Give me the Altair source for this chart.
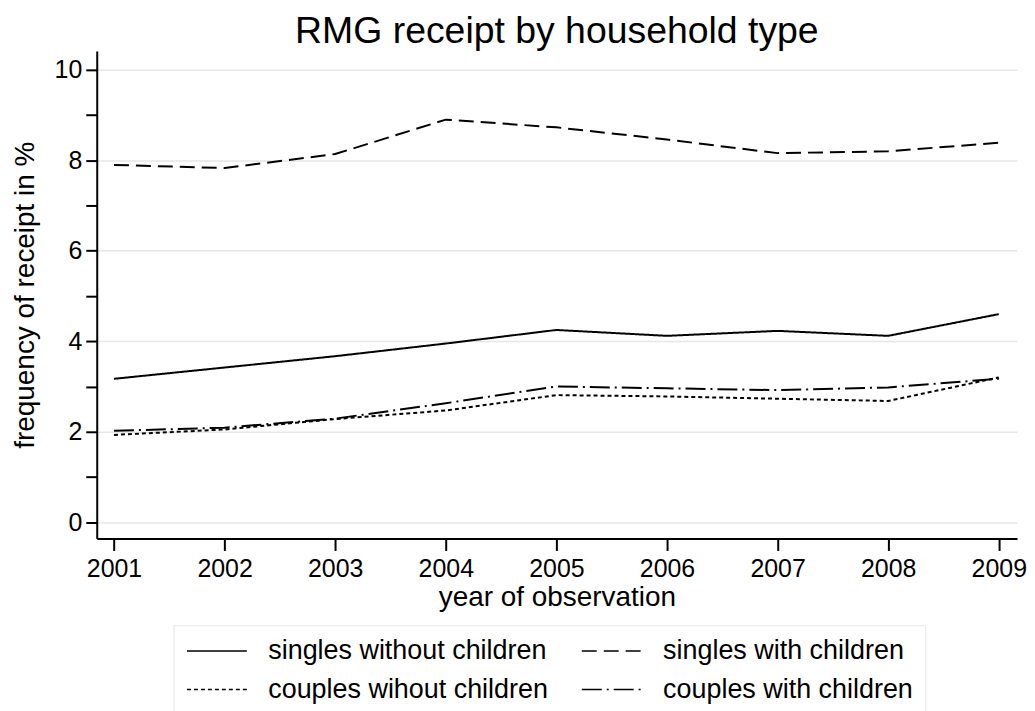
import altair as alt
import pandas as pd

years = [2001, 2002, 2003, 2004, 2005, 2006, 2007, 2008, 2009]
singles_without = [3.17, 3.42, 3.67, 3.95, 4.25, 4.12, 4.23, 4.12, 4.60]
singles_with = [7.90, 7.83, 8.14, 8.90, 8.73, 8.46, 8.16, 8.20, 8.39]
couples_without = [1.93, 2.05, 2.28, 2.47, 2.81, 2.78, 2.73, 2.68, 3.20]
couples_with = [2.02, 2.09, 2.29, 2.63, 3.00, 2.96, 2.92, 2.98, 3.17]

# legend fills column by column, so order: col1 (row1,row2), col2 (row1,row2)
series_names = [
    "singles without children",
    "couples wihout children",
    "singles with children",
    "couples with children",
]
series_values = [singles_without, couples_without, singles_with, couples_with]
dash_styles = [[1, 0], [4, 3], [15, 7], [20, 5, 2, 5]]

rows = []
for name, vals in zip(series_names, series_values):
    for yr, v in zip(years, vals):
        rows.append({"year": yr, "value": v, "series": name})
df = pd.DataFrame(rows)

FONT = "Liberation Sans"

chart = alt.Chart(df).mark_line(color="black", strokeWidth=2).encode(
    x=alt.X(
        "year:Q",
        scale=alt.Scale(domain=[2000.844, 2009.165], nice=False, zero=False),
        axis=alt.Axis(
            values=years, format="d", title="year of observation", grid=False,
            tickSize=12, labelPadding=6, titlePadding=2,
        ),
    ),
    y=alt.Y(
        "value:Q",
        scale=alt.Scale(domain=[-0.36, 10.42], nice=False, zero=False),
        axis=alt.Axis(
            values=list(range(0, 11)),
            labelExpr="datum.value % 2 === 0 ? datum.label : ''",
            title="frequency of receipt in %",
            gridColor="#e6e6e6", gridWidth=1.5,
            gridOpacity={"condition": {"test": "datum.value % 2 === 1", "value": 0}, "value": 1},
            tickSize=11, labelPadding=4, titlePadding=15,
        ),
    ),
    strokeDash=alt.StrokeDash(
        "series:N",
        scale=alt.Scale(domain=series_names, range=dash_styles),
        legend=alt.Legend(
            title=None, orient="none", legendX=77, legendY=576, columns=2,
            symbolType="M-2.4,0H9.6", symbolSize=100, symbolStrokeWidth=1.5,
            symbolStrokeColor="black", symbolFillColor="transparent",
            labelOffset=56, labelFontSize=27, labelFont=FONT, labelColor="black",
            labelLimit=500, columnPadding=30, rowPadding=11, gridAlign="all",
            strokeColor="#e6e6e6", padding=12,
        ),
    ),
).properties(
    width=923,
    height=489,
    title=alt.Title(
        "RMG receipt by household type", fontSize=37.5, font=FONT,
        fontWeight="normal", anchor="middle", color="black", offset=0,
    ),
    autosize=alt.AutoSizeParams(type="none"),
    padding={"left": 89, "top": 42, "right": 10, "bottom": 172},
    background="white",
).configure_view(stroke=None).configure_axis(
    labelFont=FONT, titleFont=FONT, labelFontSize=25, titleFontSize=28,
    titleFontWeight="normal", labelColor="black", titleColor="black",
    domainColor="black", domainWidth=2, tickColor="black", tickWidth=2,
)

chart.save("out.html", embed_options={"renderer": "svg", "actions": False})
